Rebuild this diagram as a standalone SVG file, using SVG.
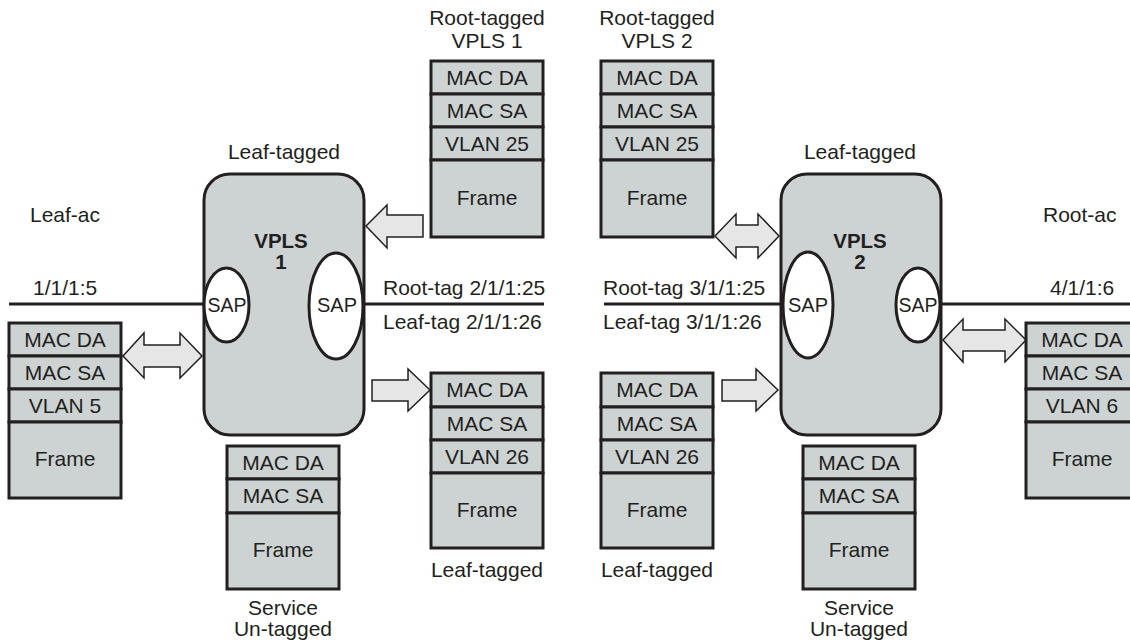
<svg xmlns="http://www.w3.org/2000/svg" width="1130" height="641" viewBox="0 0 1130 641">
<style>
text{font-family:"Liberation Sans",Arial,sans-serif;font-size:21px;fill:#231f20;text-anchor:middle}
.b{font-weight:bold;font-size:20.5px}
.sap{font-size:20px}
.cell{fill:#cdd3d3;stroke:#231f20;stroke-width:3}
.vpls{fill:#cdd3d3;stroke:#231f20;stroke-width:3}
.ell{fill:#fff;stroke:#231f20;stroke-width:3}
.ln{stroke:#231f20;stroke-width:3;fill:none}
.arr{fill:#e6e6e6;stroke:#231f20;stroke-width:1.5;stroke-linejoin:miter}
.lbl{text-anchor:start}
</style>
<rect width="1130" height="641" fill="#fff"/>

<g id="connectors">
<line class="ln" x1="9" y1="304" x2="204" y2="304"/>
<line class="ln" x1="364" y1="304" x2="544" y2="304"/>
<line class="ln" x1="604" y1="304" x2="781" y2="304"/>
<line class="ln" x1="941" y1="304" x2="1130" y2="304"/>
<polygon class="arr" points="366,226 387,205 387,215 423,215 423,237 387,237 387,248"/>
<polygon class="arr" points="715,236 736,214 736,225 758,225 758,214 779,236 758,258 758,247 736,247 736,258"/>
<polygon class="arr" points="123,356 144,333 144,345 180,345 180,333 202,356 180,378 180,367 144,367 144,378"/>
<polygon class="arr" points="430,390 408,369 408,380 372,380 372,401 408,401 408,411"/>
<polygon class="arr" points="778,390 756,369 756,380 722,380 722,401 756,401 756,411"/>
<polygon class="arr" points="943,340 963,319 963,330 1005,330 1005,319 1026,340 1005,362 1005,351 963,351 963,362"/>
</g>

<g id="labels">
<text class="lbl" x="30" y="222">Leaf-ac</text>
<text class="lbl" x="33" y="295">1/1/1:5</text>
<text x="284" y="159">Leaf-tagged</text>
<text x="860" y="159">Leaf-tagged</text>
<text class="lbl" x="383" y="295">Root-tag 2/1/1:25</text>
<text class="lbl" x="383" y="329">Leaf-tag 2/1/1:26</text>
<text class="lbl" x="603" y="295">Root-tag 3/1/1:25</text>
<text class="lbl" x="603" y="329">Leaf-tag 3/1/1:26</text>
<text class="lbl" x="1043" y="222">Root-ac</text>
<text class="lbl" x="1050" y="295">4/1/1:6</text>
<text x="487" y="25">Root-tagged</text>
<text x="487" y="48">VPLS 1</text>
<text x="657" y="25">Root-tagged</text>
<text x="657" y="48">VPLS 2</text>
<text x="487" y="577">Leaf-tagged</text>
<text x="657" y="577">Leaf-tagged</text>
<text x="283" y="615">Service</text>
<text x="283" y="636">Un-tagged</text>
<text x="859" y="615">Service</text>
<text x="859" y="636">Un-tagged</text>
</g>

<g id="vpls1">
<rect class="vpls" x="204" y="174" width="160" height="261" rx="26" ry="26"/>
<text class="b" x="281" y="248">VPLS</text>
<text class="b" x="281" y="269">1</text>
<ellipse class="ell" cx="226.5" cy="305" rx="22.5" ry="37"/>
<text class="sap" x="227" y="312" textLength="39" lengthAdjust="spacingAndGlyphs">SAP</text>
<ellipse class="ell" cx="336" cy="306" rx="27" ry="53"/>
<text class="sap" x="337" y="312">SAP</text>
</g>

<g id="vpls2">
<rect class="vpls" x="781" y="174" width="160" height="261" rx="26" ry="26"/>
<text class="b" x="860" y="248">VPLS</text>
<text class="b" x="860" y="269">2</text>
<ellipse class="ell" cx="808" cy="305" rx="25" ry="53"/>
<text class="sap" x="808" y="312">SAP</text>
<ellipse class="ell" cx="918" cy="305" rx="22" ry="37"/>
<text class="sap" x="918" y="312" textLength="39" lengthAdjust="spacingAndGlyphs">SAP</text>
</g>

<g id="stack-root1">
<rect class="cell" x="431" y="61" width="112" height="33"/>
<rect class="cell" x="431" y="94" width="112" height="33"/>
<rect class="cell" x="431" y="127" width="112" height="33"/>
<rect class="cell" x="431" y="160" width="112" height="77"/>
<text x="487" y="85">MAC DA</text>
<text x="487" y="118">MAC SA</text>
<text x="487" y="151">VLAN 25</text>
<text x="487" y="205">Frame</text>
</g>

<g id="stack-root2">
<rect class="cell" x="601" y="61" width="112" height="33"/>
<rect class="cell" x="601" y="94" width="112" height="33"/>
<rect class="cell" x="601" y="127" width="112" height="33"/>
<rect class="cell" x="601" y="160" width="112" height="77"/>
<text x="657" y="85">MAC DA</text>
<text x="657" y="118">MAC SA</text>
<text x="657" y="151">VLAN 25</text>
<text x="657" y="205">Frame</text>
</g>

<g id="stack-leafac">
<rect class="cell" x="9" y="323" width="112" height="33"/>
<rect class="cell" x="9" y="356" width="112" height="33"/>
<rect class="cell" x="9" y="389" width="112" height="33"/>
<rect class="cell" x="9" y="422" width="112" height="76"/>
<text x="65" y="347">MAC DA</text>
<text x="65" y="380">MAC SA</text>
<text x="65" y="413">VLAN 5</text>
<text x="65" y="466">Frame</text>
</g>

<g id="stack-svc1">
<rect class="cell" x="227" y="446" width="112" height="33"/>
<rect class="cell" x="227" y="479" width="112" height="34"/>
<rect class="cell" x="227" y="513" width="112" height="76"/>
<text x="283" y="470">MAC DA</text>
<text x="283" y="503">MAC SA</text>
<text x="283" y="557">Frame</text>
</g>

<g id="stack-leaf1">
<rect class="cell" x="431" y="373" width="112" height="34"/>
<rect class="cell" x="431" y="407" width="112" height="33"/>
<rect class="cell" x="431" y="440" width="112" height="33"/>
<rect class="cell" x="431" y="473" width="112" height="75"/>
<text x="487" y="397">MAC DA</text>
<text x="487" y="431">MAC SA</text>
<text x="487" y="464">VLAN 26</text>
<text x="487" y="517">Frame</text>
</g>

<g id="stack-leaf2">
<rect class="cell" x="601" y="373" width="112" height="34"/>
<rect class="cell" x="601" y="407" width="112" height="33"/>
<rect class="cell" x="601" y="440" width="112" height="33"/>
<rect class="cell" x="601" y="473" width="112" height="75"/>
<text x="657" y="397">MAC DA</text>
<text x="657" y="431">MAC SA</text>
<text x="657" y="464">VLAN 26</text>
<text x="657" y="517">Frame</text>
</g>

<g id="stack-svc2">
<rect class="cell" x="803" y="446" width="112" height="33"/>
<rect class="cell" x="803" y="479" width="112" height="34"/>
<rect class="cell" x="803" y="513" width="112" height="76"/>
<text x="859" y="470">MAC DA</text>
<text x="859" y="503">MAC SA</text>
<text x="859" y="557">Frame</text>
</g>

<g id="stack-rootac">
<rect class="cell" x="1026" y="323" width="112" height="33"/>
<rect class="cell" x="1026" y="356" width="112" height="33"/>
<rect class="cell" x="1026" y="389" width="112" height="33"/>
<rect class="cell" x="1026" y="422" width="112" height="76"/>
<text x="1082" y="347">MAC DA</text>
<text x="1082" y="380">MAC SA</text>
<text x="1082" y="413">VLAN 6</text>
<text x="1082" y="466">Frame</text>
</g>
</svg>
